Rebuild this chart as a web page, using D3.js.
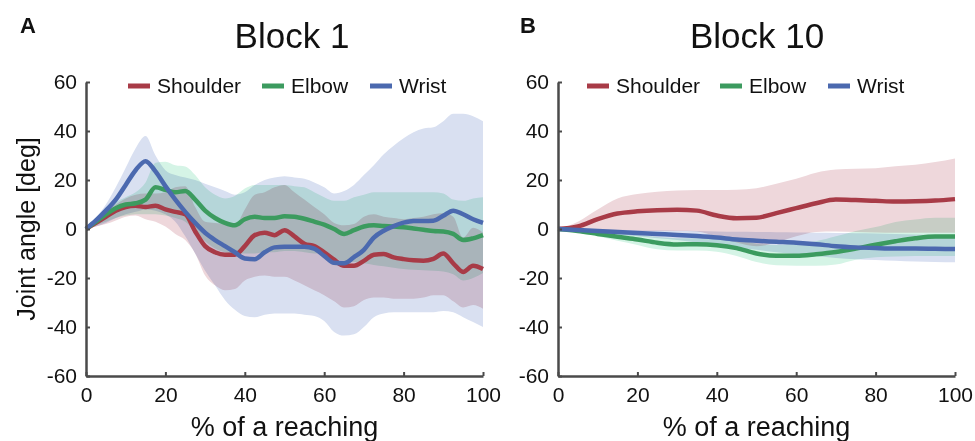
<!DOCTYPE html>
<html>
<head>
<meta charset="utf-8">
<script src="https://cdn.jsdelivr.net/npm/d3@7"></script>
<style>
body { margin: 0; background: #fff; }
text { font-family: "Liberation Sans", Arial, sans-serif; fill: #111; }
</style>
</head>
<body>
<script>
// Block 1: % of reaching, sampled every 2.5
var xA = [0, 2.5, 5, 7.5, 10, 12.5, 15, 17.5, 20, 22.5, 25, 27.5, 30, 32.5, 35, 37.5, 40, 42.5, 45, 47.5,
    50, 52.5, 55, 57.5, 60, 62.5, 65, 67.5, 70, 72.5, 75, 77.5, 80, 82.5, 85, 87.5, 90, 92.5, 95, 97.5, 100];

var shoulderA = [0, 2.5, 5, 7.5, 9, 9.5, 9, 9.5, 8, 7, 6, -1, -7, -9.5, -10.5, -10.5, -7, -2.5, -1.5, -2.5,
    -0.5, -3, -6, -7, -9.5, -12.5, -15, -15, -13, -10.5, -10.2, -11.6, -12.3, -12.8, -13, -12.2, -10, -14, -17.5, -15, -16.3];
var shoulderAHi = [0, 3.5, 7, 10, 12.5, 14, 14.5, 14.5, 15, 17, 17.5, 9, 3, 2.5, 2, 1.5, 8, 14, 15, 17,
    18, 15, 12, 9, 6, 2.5, 1.5, 2, 5, 6, 5, 4.5, 4, 4.5, 5, 6, 6.5, 5, -3.5, 0.5, -1.5];
var shoulderALo = [0, 1, 2, 3.5, 5, 5.5, 4, 3, 1, -2, -4.5, -10, -19, -23, -25, -24.5, -21, -19.5, -19, -19.5,
    -19.5, -21, -23, -25, -27, -29.5, -32, -31.5, -29, -28, -28, -28.5, -28.5, -28.5, -28, -27, -27, -29.5, -32, -31, -32.5];

var elbowA = [0, 3, 6, 8.5, 10, 10.5, 12, 17, 16, 15, 15.5, 12, 7.5, 4.5, 2.5, 1.5, 4, 5, 4.5, 4.5,
    5.2, 5, 4.2, 3, 1.8, 0, -2, -0.5, 1, 1.5, 1.2, 1, 0.7, 0.2, -0.3, -0.8, -1, -2, -4.5, -3.8, -2.5];
var elbowAHi = [0, 4, 8, 11, 13, 15, 19, 27, 27.5, 26, 25.5, 22, 17, 14, 12.5, 13.5, 16.5, 18, 18, 18,
    18, 17.5, 17, 15, 13, 11.5, 11.5, 13, 14, 15, 15, 15, 15, 15, 15, 15, 14.5, 12, 11.5, 12.5, 13];
var elbowALo = [0, 1.5, 3, 4.5, 5.5, 6, 6, 6, 5.5, 4.5, 3, -1, -5, -8, -9.5, -10, -10, -10, -9.5, -9.5,
    -9, -9, -9.5, -10, -10, -12, -13, -13.5, -14, -14.7, -15.2, -15.8, -16.3, -16.6, -16.8, -17, -17.3, -18.5, -21, -20, -18];

var wristA = [0, 3.5, 7.5, 12, 18, 24, 27.7, 23.5, 17.5, 12, 7, 2.5, -1.5, -4.5, -7, -9.5, -12, -12.3, -9.5, -7.5,
    -7.2, -7.2, -7.2, -8, -11, -13.8, -14, -11.5, -8.5, -3.5, -0.7, 1.2, 2.6, 3.3, 3.3, 3.4, 5.4, 7.5, 6, 4, 2.5];
var wristAHi = [0, 4.5, 10, 17, 25, 33, 38, 30, 24, 22, 21, 20, 18.5, 17, 15.5, 14, 15, 18, 20, 21,
    21.5, 21, 20.5, 19, 17, 14.5, 15.5, 18, 22, 26, 30.5, 34, 37, 39.5, 41, 41.5, 44, 47, 47, 46, 44];
var wristALo = [0, 1, 2.5, 4.5, 6, 7, 8, 7.5, 6, 3, -3, -10, -17, -23, -29, -33, -35.5, -36, -35, -34.5,
    -34.5, -34.5, -35, -35.5, -37.5, -42, -43.5, -43, -40, -36, -34.5, -34, -34, -34, -34, -34, -33.5, -34, -36, -38, -40];

// Block 10: sampled every 5
var xB = [0, 5, 10, 15, 20, 25, 30, 35, 40, 45, 50, 55, 60, 65, 70, 75, 80, 85, 90, 95, 100];

var shoulderB = [0, 1, 4, 6.3, 7.2, 7.7, 7.9, 7.5, 5.5, 4.4, 4.6, 6.5, 8.5, 10.5, 12, 11.8, 11.5, 11.2, 11.3, 11.6, 12.2];
var shoulderBHi = [0, 3, 8, 12.5, 14.3, 15.2, 15.7, 15.9, 15.9, 16, 16.6, 18.5, 20.5, 23, 24.3, 24.6, 24.8, 25.6, 26.2, 27.3, 28.8];
var shoulderBLo = [0, -0.3, -0.5, -0.6, -0.7, -0.8, -0.8, -1, -3, -5.5, -7, -5.5, -3, -1.2, -1, -1.2, -1.4, -1.5, -1.5, -1.5, -1.5];

var elbowB = [0, -0.8, -2, -3.2, -4.3, -5.6, -6.3, -6.2, -6.6, -7.8, -10, -10.9, -10.9, -10.3, -9.4, -8, -6.4, -5, -3.8, -3.1, -3.1];
var elbowBHi = [0, -0.2, -0.8, -1.5, -2.3, -3.3, -3.8, -3.8, -4, -4.5, -6, -6.5, -6, -5, -3, -0.8, 0.8, 2.9, 3.9, 4.6, 4.6];
var elbowBLo = [0, -1.5, -3, -4.8, -6.5, -8.3, -8.8, -8.8, -9.3, -11, -13.5, -14.8, -15, -15, -14.5, -12.5, -11.5, -11.2, -11, -11, -11];

var wristB = [0, -0.4, -0.8, -1.2, -1.6, -2, -2.4, -2.9, -3.5, -4.3, -4.8, -5.2, -5.6, -6.2, -7, -7.5, -7.8, -8, -8, -8.1, -8.2];
var wristBHi = [0, 0, -0.2, -0.3, -0.5, -0.6, -0.7, -0.8, -1, -1.1, -1.2, -1.3, -1.4, -1.5, -1.6, -1.7, -1.8, -2, -2.2, -2.4, -2.6];
var wristBLo = [0, -0.8, -1.5, -2.2, -3, -3.8, -4.5, -5.5, -6.5, -7.5, -8.5, -9.5, -10.3, -11, -11.8, -12.3, -12.7, -13, -13.3, -13.5, -13.6];

var joints = ["Shoulder", "Elbow", "Wrist"];
var xTicks = [0, 20, 40, 60, 80, 100];
var yTicks = [-60, -40, -20, 0, 20, 40, 60];

var lineColors = ["#a83b47", "#3c9b5f", "#4b69af"];
var bandColors = ["#eed7db", "#d5f4e6", "#d9e0f1"];

var width = 975, height = 441;

var svg = d3.select("body").append("svg")
    .attr("width", width)
    .attr("height", height);

var y = d3.scaleLinear().domain([-60, 60]).range([376, 82]);

// plain hyphen for negatives, like the original figure
var plainNum = function (d) { return String(d); };

function drawPanel(p) {
    var x = d3.scaleLinear().domain([0, 100]).range([p.left, p.left + 397]);
    var g = svg.append("g");

    var area = d3.area()
        .x(function (d) { return x(d[0]); })
        .y0(function (d) { return y(d[1]); })
        .y1(function (d) { return y(d[2]); })
        .curve(d3.curveMonotoneX);

    var line = d3.line()
        .x(function (d) { return x(d[0]); })
        .y(function (d) { return y(d[1]); })
        .curve(d3.curveMonotoneX);

    p.series.forEach(function (s, i) {
        var pts = p.xs.map(function (v, k) { return [v, s.lo[k], s.hi[k]]; });
        g.append("path")
            .attr("d", area(pts))
            .attr("fill", bandColors[i])
            .style("mix-blend-mode", "multiply");
    });

    p.series.forEach(function (s, i) {
        var pts = p.xs.map(function (v, k) { return [v, s.mean[k]]; });
        g.append("path")
            .attr("d", line(pts))
            .attr("fill", "none")
            .attr("stroke", lineColors[i])
            .attr("stroke-width", 4.5)
            .attr("stroke-linejoin", "round");
    });

    var yAxis = g.append("g")
        .attr("transform", "translate(" + p.left + ",0)")
        .call(d3.axisLeft(y).tickValues(yTicks).tickFormat(plainNum)
            .tickSizeInner(-4).tickSizeOuter(0).tickPadding(9));
    var xAxis = g.append("g")
        .attr("transform", "translate(0,376)")
        .call(d3.axisBottom(x).tickValues(xTicks).tickFormat(plainNum)
            .tickSizeInner(-4).tickSizeOuter(0).tickPadding(11));

    [yAxis, xAxis].forEach(function (a) {
        a.select(".domain").attr("stroke", "#4a4a4a").attr("stroke-width", 2.5);
        a.selectAll(".tick line").attr("stroke", "#4a4a4a").attr("stroke-width", 2);
        a.selectAll(".tick text").attr("fill", "#111").attr("font-family", "Liberation Sans, Arial, sans-serif");
    });
    yAxis.selectAll(".tick text").attr("font-size", "21px");
    xAxis.selectAll(".tick text").attr("font-size", "21px");

    // panel letter and title
    svg.append("text")
        .attr("x", p.letterX).attr("y", 33)
        .attr("font-size", "22px").attr("font-weight", "bold")
        .text(p.letter);
    svg.append("text")
        .attr("x", p.titleX).attr("y", 48)
        .attr("text-anchor", "middle")
        .attr("font-size", "35px")
        .text(p.title);

    // legend
    joints.forEach(function (name, i) {
        var lx = p.legendX[i];
        svg.append("line")
            .attr("x1", lx).attr("x2", lx + 22)
            .attr("y1", 86).attr("y2", 86)
            .attr("stroke", lineColors[i])
            .attr("stroke-width", 5);
        svg.append("text")
            .attr("x", lx + 29).attr("y", 93)
            .attr("font-size", "21px")
            .text(name);
    });

    svg.append("text")
        .attr("x", x(50)).attr("y", 436)
        .attr("text-anchor", "middle")
        .attr("font-size", "27px")
        .text("% of a reaching");

    if (p.yLabel) {
        svg.append("text")
            .attr("transform", "translate(35," + y(0) + ") rotate(-90)")
            .attr("text-anchor", "middle")
            .attr("font-size", "25px")
            .text(p.yLabel);
    }
}

drawPanel({
    left: 86, letter: "A", letterX: 20, title: "Block 1", titleX: 292,
    legendX: [128, 262, 370], yLabel: "Joint angle [deg]",
    xs: xA,
    series: [
        {mean: shoulderA, hi: shoulderAHi, lo: shoulderALo},
        {mean: elbowA, hi: elbowAHi, lo: elbowALo},
        {mean: wristA, hi: wristAHi, lo: wristALo}
    ]
});

drawPanel({
    left: 558, letter: "B", letterX: 520, title: "Block 10", titleX: 757,
    legendX: [587, 720, 828], yLabel: null,
    xs: xB,
    series: [
        {mean: shoulderB, hi: shoulderBHi, lo: shoulderBLo},
        {mean: elbowB, hi: elbowBHi, lo: elbowBLo},
        {mean: wristB, hi: wristBHi, lo: wristBLo}
    ]
});
</script>
</body>
</html>
